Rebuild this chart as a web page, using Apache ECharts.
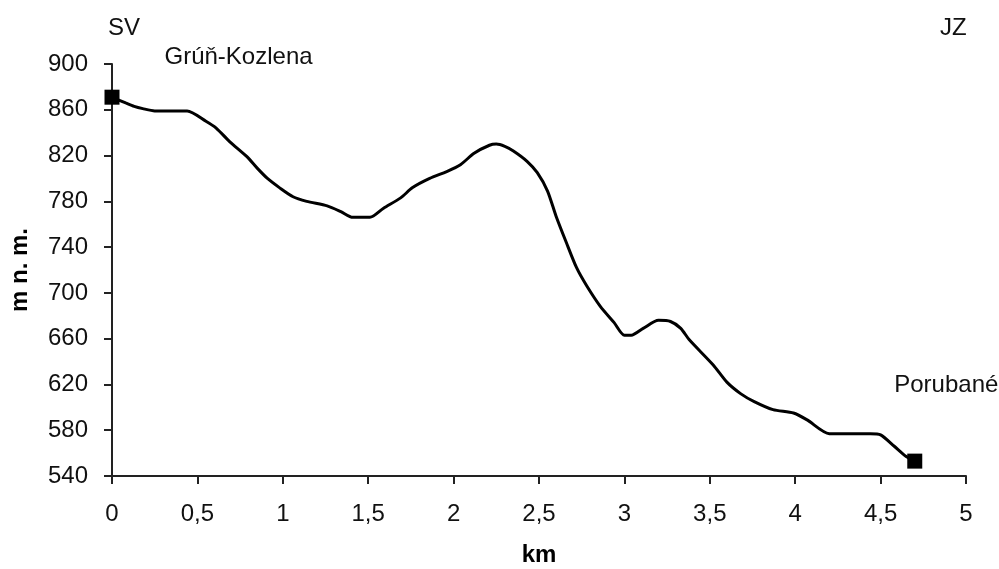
<!DOCTYPE html>
<html>
<head>
<meta charset="utf-8">
<title>Výškový profil Grúň-Kozlena – Porubané</title>
<script src="https://cdn.jsdelivr.net/npm/echarts@6/dist/echarts.min.js"></script>
<style>
  html, body { margin: 0; padding: 0; background: #fff; }
  #chart { width: 999px; height: 569px; }
</style>
</head>
<body>
<div id="chart"></div>
<script>
// Distance along the route (km) and altitude (m n. m.)
const distanceKm = [0, 0.08, 0.13, 0.18, 0.25, 0.44, 0.55, 0.61, 0.69, 0.79, 0.85, 0.91, 0.98, 1.06, 1.14, 1.26, 1.34, 1.41, 1.51, 1.59, 1.69, 1.76, 1.86, 1.96, 2.04, 2.12, 2.21, 2.25, 2.30, 2.35, 2.43, 2.49, 2.55, 2.60, 2.66, 2.72, 2.78, 2.86, 2.94, 3.00, 3.04, 3.11, 3.20, 3.27, 3.33, 3.38, 3.52, 3.60, 3.68, 3.76, 3.87, 3.99, 4.07, 4.20, 4.44, 4.50, 4.58, 4.65, 4.70];
const altitude = [871, 866, 863, 861, 859, 859, 850, 844, 832, 819, 809, 800, 792, 784, 780, 776, 771, 766, 766, 774, 783, 792, 800, 806, 812, 822, 829, 830, 828, 824, 815, 805, 789, 767, 744, 722, 706, 688, 674, 663, 663, 669, 676, 675, 669, 659, 637, 622, 612, 605, 598, 595, 589, 577, 577, 576, 566, 557, 553];

// Named end points of the profile
const endpointNames = ['Grúň-Kozlena', 'Porubané'];
// Compass directions at both ends
const directionLeft = 'SV';
const directionRight = 'JZ';

// Axis ranges and tick steps
const xMin = 0, xMax = 5, xStep = 0.5;
const yMin = 540, yMax = 900, yStep = 40;

const FONT = '"Liberation Sans", Arial, sans-serif';
const TEXT_COLOR = '#111';

const profile = distanceKm.map((d, i) => [d, altitude[i]]);
const last = profile.length - 1;
const endpoints = [profile[0], profile[last]];

const chart = echarts.init(document.getElementById('chart'), null, { renderer: 'canvas' });

chart.setOption({
  backgroundColor: '#ffffff',
  animation: false,
  grid: { left: 112, right: 33, top: 64, bottom: 93, containLabel: false, outerBoundsMode: 'none' },
  xAxis: {
    type: 'value',
    min: xMin, max: xMax, interval: xStep,
    name: 'km',
    nameLocation: 'middle',
    nameGap: 67,
    nameTextStyle: { fontFamily: FONT, fontSize: 24, fontWeight: 'bold', color: '#000' },
    axisLine: { show: true, lineStyle: { color: '#222', width: 2 } },
    axisTick: { show: true, length: 8, lineStyle: { color: '#222', width: 2 } },
    axisLabel: {
      fontFamily: FONT, fontSize: 24, color: TEXT_COLOR, margin: 26,
      formatter: v => String(v).replace('.', ',')
    },
    splitLine: { show: false }
  },
  yAxis: {
    type: 'value',
    min: yMin, max: yMax, interval: yStep,
    name: 'm n. m.',
    nameLocation: 'middle',
    nameRotate: 90,
    nameGap: 80,
    nameTextStyle: { fontFamily: FONT, fontSize: 24, fontWeight: 'bold', color: '#000' },
    axisLine: { show: true, lineStyle: { color: '#222', width: 2 } },
    axisTick: { show: true, length: 8, lineStyle: { color: '#222', width: 2 } },
    axisLabel: { fontFamily: FONT, fontSize: 24, color: TEXT_COLOR, margin: 24 },
    splitLine: { show: false }
  },
  series: [
    {
      type: 'line',
      data: profile,
      smooth: 0.25,
      symbol: 'none',
      lineStyle: { color: '#000', width: 3 }
    },
    {
      type: 'scatter',
      data: [
        {
          value: endpoints[0],
          label: {
            show: true, formatter: endpointNames[0],
            position: 'right', offset: [40, -40],
            fontFamily: FONT, fontSize: 24, color: TEXT_COLOR
          }
        },
        {
          value: endpoints[1],
          label: {
            show: true, formatter: endpointNames[1],
            position: 'right', offset: [-33, -76],
            fontFamily: FONT, fontSize: 24, color: TEXT_COLOR
          }
        }
      ],
      symbol: 'rect',
      symbolSize: 15,
      itemStyle: { color: '#000', opacity: 1 },
      z: 5
    }
  ],
  graphic: [
    {
      type: 'text', left: 108, top: 16,
      style: { text: directionLeft, font: '24px ' + FONT, fill: TEXT_COLOR }
    },
    {
      type: 'text', left: 940, top: 16,
      style: { text: directionRight, font: '24px ' + FONT, fill: TEXT_COLOR }
    }
  ]
});
</script>
</body>
</html>
